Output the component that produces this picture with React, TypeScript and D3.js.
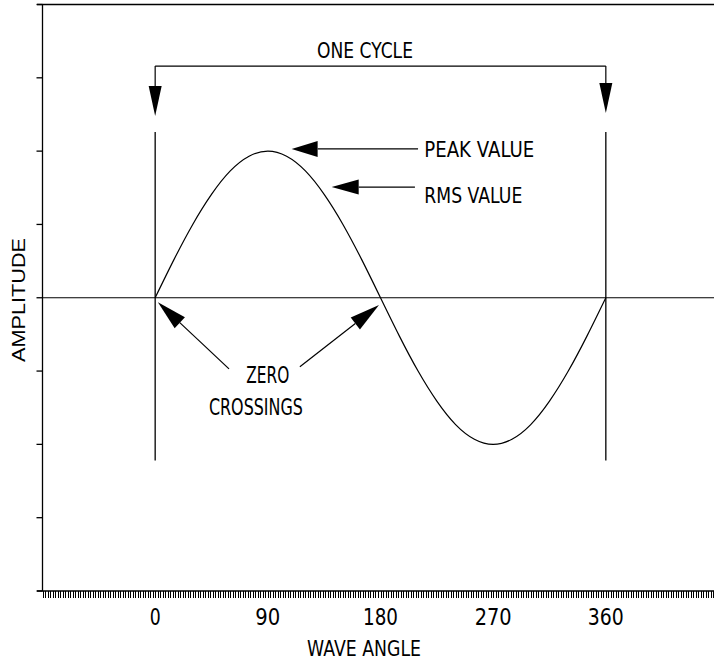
import React from "react";
import * as d3 from "d3";

// ---- data ----
const angles = [0, 15, 30, 45, 60, 75, 90, 105, 120, 135, 150, 165, 180, 195, 210, 225, 240, 255, 270, 285, 300, 315, 330, 345, 360];
const amplitude = [0, 0.52, 1.0, 1.41, 1.73, 1.93, 2.0, 1.93, 1.73, 1.41, 1.0, 0.52, 0, -0.52, -1.0, -1.41, -1.73, -1.93, -2.0, -1.93, -1.73, -1.41, -1.0, -0.52, 0];
const xTickLabels = [0, 90, 180, 270, 360];
const yTickValues = [-4, -3, -2, -1, 0, 1, 2, 3, 4];
const xDomain = [-90, 450];
const yDomain = [-4, 4];
const cycleStart = 0;
const cycleEnd = 360;

const W = 714;
const H = 664;
const FONT = "'DejaVu Sans', sans-serif";

export default function App() {
  const x = d3.scaleLinear().domain(xDomain).range([42.5, 718.5]);
  const y = d3.scaleLinear().domain(yDomain).range([591, 4.5]);

  const pts = angles.map((a, i) => [a, amplitude[i]] as [number, number]);
  const line = d3
    .line<[number, number]>()
    .x((d) => x(d[0]))
    .y((d) => y(d[1]))
    .curve(d3.curveNatural);

  const minorTicks = d3.range(xDomain[0], xDomain[1] + 1, 2);

  const arrow = (
    key: string,
    x1: number,
    y1: number,
    x2: number,
    y2: number,
    len: number,
    half: number
  ) => {
    const dx = x2 - x1;
    const dy = y2 - y1;
    const L = Math.hypot(dx, dy);
    const ux = dx / L;
    const uy = dy / L;
    const bx = x2 - ux * len;
    const by = y2 - uy * len;
    const px = -uy;
    const py = ux;
    const tri = `M${x2},${y2}L${bx + px * half},${by + py * half}L${bx - px * half},${by - py * half}Z`;
    return (
      <g key={key}>
        <line x1={x1} y1={y1} x2={bx} y2={by} stroke="#000" strokeWidth={1.2} />
        <path d={tri} fill="#000" />
      </g>
    );
  };

  const label = (
    key: string,
    text: string,
    tx: number,
    ty: number,
    width: number,
    size: number,
    anchor: "start" | "middle" = "start"
  ) => (
    <text
      key={key}
      x={tx}
      y={ty}
      fontFamily={FONT}
      fontSize={size}
      textAnchor={anchor}
      textLength={width}
      lengthAdjust="spacingAndGlyphs"
      fill="#000"
    >
      {text}
    </text>
  );

  const yTop = y(3.16);
  const tickLabelWidths: Record<number, number> = { 0: 11, 90: 25, 180: 35, 270: 37, 360: 36 };

  return (
    <svg
      width={W}
      height={H}
      style={{ position: "absolute", left: 0, top: 0, background: "#fff" }}
    >
      <rect x={0} y={0} width={W} height={H} fill="#fff" />

      {/* top border */}
      <line x1={37} y1={y(4)} x2={W} y2={y(4)} stroke="#000" strokeWidth={1.5} />
      {/* y axis */}
      <line x1={x(-90)} y1={y(4)} x2={x(-90)} y2={y(-4)} stroke="#000" strokeWidth={1.3} />
      {yTickValues.map((v) => (
        <line key={"yt" + v} x1={x(-90) - 6} x2={x(-90)} y1={y(v)} y2={y(v)} stroke="#000" strokeWidth={1.3} />
      ))}
      {/* x axis */}
      <line x1={37} y1={y(-4)} x2={W} y2={y(-4)} stroke="#000" strokeWidth={1.5} />
      {minorTicks.map((t) => (
        <line key={"xt" + t} x1={Math.round(x(t)) + 0.5} x2={Math.round(x(t)) + 0.5} y1={y(-4)} y2={y(-4) + 7} stroke="#000" strokeWidth={1} shapeRendering="crispEdges" />
      ))}
      {xTickLabels.map((t) =>
        label("xl" + t, String(t), x(t), 625, tickLabelWidths[t], 23, "middle")
      )}
      {label("xtitle", "WAVE ANGLE", 364, 656, 114, 21, "middle")}

      {/* y title */}
      <text
        transform={`translate(25,300) rotate(-90)`}
        fontFamily="'Liberation Sans', Arial, sans-serif"
        fontSize={18}
        textAnchor="middle"
        textLength={124}
        lengthAdjust="spacingAndGlyphs"
        fill="#000"
      >
        AMPLITUDE
      </text>

      {/* zero line */}
      <line x1={x(-90)} y1={y(0)} x2={W} y2={y(0)} stroke="#000" strokeWidth={1.2} />

      {/* cycle verticals */}
      <line x1={x(cycleStart)} x2={x(cycleStart)} y1={y(2.26)} y2={y(-2.22)} stroke="#000" strokeWidth={1.3} />
      <line x1={x(cycleEnd)} x2={x(cycleEnd)} y1={y(2.26)} y2={y(-2.22)} stroke="#000" strokeWidth={1.3} />

      {/* sine */}
      <path d={line(pts) || ""} fill="none" stroke="#000" strokeWidth={1.2} />

      {/* one cycle bracket */}
      <line x1={x(cycleStart)} x2={x(cycleEnd)} y1={yTop} y2={yTop} stroke="#000" strokeWidth={1.3} />
      {arrow("c1", x(cycleStart), yTop, x(cycleStart), y(2.48), 30, 6.5)}
      {arrow("c2", x(cycleEnd), yTop, x(cycleEnd), y(2.52), 30, 6.5)}
      {label("oc", "ONE CYCLE", x(167.6), y(3.27), 96, 22, "middle")}

      {/* peak & rms */}
      {arrow("pk", x(210), y(2.03), x(109), y(2.03), 26, 8)}
      {label("pkl", "PEAK VALUE", x(215), y(1.92), 110, 21)}
      {arrow("rms", x(207.5), y(1.51), x(141), y(1.51), 27, 7.5)}
      {label("rmsl", "RMS VALUE", x(215), y(1.29), 98, 21)}

      {/* zero crossings */}
      {arrow("z1", x(59), y(-0.97), x(2.2), y(-0.06), 30, 7.5)}
      {arrow("z2", x(115.6), y(-0.94), x(178.8), y(-0.1), 30, 7.5)}
      {label("zl1", "ZERO", x(90), y(-1.16), 43, 23, "middle")}
      {label("zl2", "CROSSINGS", x(80.5), y(-1.6), 94, 23, "middle")}
    </svg>
  );
}
